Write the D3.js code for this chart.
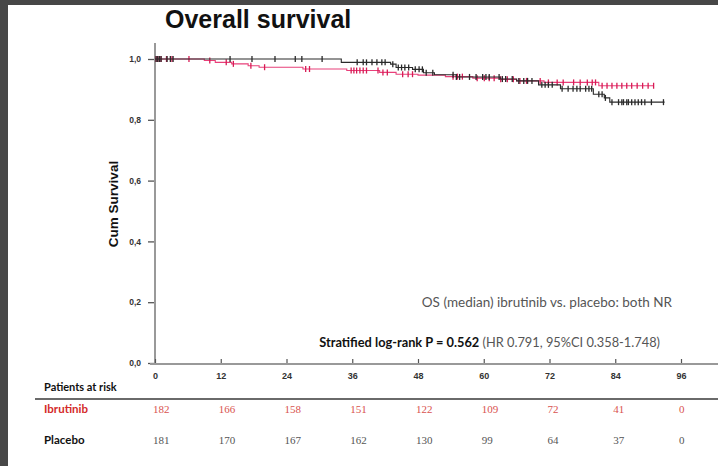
<!DOCTYPE html>
<html>
<head>
<meta charset="utf-8">
<script src="https://cdn.jsdelivr.net/npm/d3@7"></script>
<style>
  html, body { margin: 0; padding: 0; background: #fff; }
  svg { display: block; }
</style>
</head>
<body>
<svg id="chart" width="718" height="466"></svg>
<script>
// Kaplan–Meier overall survival, ibrutinib vs placebo (months)
const xTicks = [0, 12, 24, 36, 48, 60, 72, 84, 96];
const yTicks = [0, 0.2, 0.4, 0.6, 0.8, 1.0];

const ibrutinibTimes = [0, 9, 11, 14, 17, 19, 27, 35, 41, 44, 48, 53, 58, 63, 66, 71, 81];
const ibrutinibSurv  = [1, 0.995, 0.989, 0.984, 0.978, 0.973, 0.967, 0.962, 0.956, 0.950, 0.947, 0.942, 0.937, 0.933, 0.928, 0.923, 0.912];
const ibrutinibEnd = 91;
const ibrutinibCensor = [0.2, 0.5, 0.8, 1.1, 2.1, 3.1, 6.2, 10, 13, 14.3, 17.5, 20, 27.5, 28.2,
  35.8, 36.3, 36.8, 37.4, 38, 38.6, 40.7, 41.6, 42.4, 45.2, 46.2, 47, 54.4, 55.2, 56.1, 58.8,
  60.1, 61, 61.9, 63.1, 64.3, 65.4, 66.6, 67.8, 70.3, 71.8, 73.4, 74.5, 76.4, 77.6, 78.9, 79.8,
  80.4, 81.6, 82.5, 83.4, 84.3, 85.2, 86.1, 87, 88, 89, 90, 91];

const placeboTimes = [0, 34, 43, 44, 47, 49, 51, 55, 63, 66, 70, 74, 80, 82, 83];
const placeboSurv  = [1, 0.989, 0.983, 0.972, 0.966, 0.955, 0.948, 0.941, 0.934, 0.928, 0.915, 0.902, 0.884, 0.872, 0.858];
const placeboEnd = 93;
const placeboCensor = [0.2, 0.5, 0.8, 1.1, 2.2, 2.8, 3.3, 13.7, 17.7, 21.9, 25.6, 26.8, 30.5,
  36.9, 38, 38.6, 39.6, 40.5, 41.4, 42, 43.4, 44.4, 45, 45.6, 46.3, 47.5, 48.2, 48.8, 49.5, 50.7,
  54.4, 55, 55.6, 57.4, 58.6, 59.8, 60.4, 61, 62.8, 63.4, 64, 65.2, 66.4, 67.3, 68, 68.8,
  70.6, 71.2, 71.8, 72.5, 74.3, 75.4, 76.3, 77, 77.6, 78.6, 79.2, 79.7, 81, 81.6, 82.2,
  83.4, 84.6, 85.2, 85.5, 86.1, 86.4, 87, 87.6, 88.2, 88.8, 89.4, 90.6, 92.8];

const riskGroups = ["Ibrutinib", "Placebo"];
const ibrutinibAtRisk = [182, 166, 158, 151, 122, 109, 72, 41, 0];
const placeboAtRisk   = [181, 170, 167, 162, 130, 99, 64, 37, 0];

const svg = d3.select("#chart");
const W = 718, H = 466;

svg.append("rect").attr("width", W).attr("height", H).attr("fill", "#fff");

const x = d3.scaleLinear().domain([0, 96]).range([155, 681]);
const y = d3.scaleLinear().domain([0, 1]).range([363, 59]);

const RED_LINE = "#e8407a", RED_MARK = "#d81b55", BLACK = "#2a2a2a";

// Title
svg.append("text")
  .attr("x", 165).attr("y", 28)
  .attr("font-family", "Liberation Sans, Arial, sans-serif")
  .attr("font-weight", 700).attr("font-size", 25).attr("fill", "#111")
  .text("Overall survival");

// Y axis
const yAxis = svg.append("g").attr("transform", "translate(155,0)")
  .call(d3.axisLeft(y).tickValues(yTicks)
    .tickFormat(d => d3.format(".1f")(d).replace(".", ","))
    .tickSize(6).tickPadding(8));
yAxis.select(".domain").remove();
yAxis.selectAll(".tick line").attr("stroke", "#555").attr("stroke-width", 1.3).attr("transform", "translate(-1,0)");
yAxis.selectAll(".tick text")
  .attr("font-family", "Liberation Sans, Arial, sans-serif")
  .attr("font-weight", 700).attr("font-size", 8.5).attr("fill", "#333");
svg.append("line").attr("x1", 155).attr("x2", 155).attr("y1", 43).attr("y2", y(0) + 1)
  .attr("stroke", "#999").attr("stroke-width", 2);

// X axis
const xAxis = svg.append("g").attr("transform", `translate(0,${y(0)})`)
  .call(d3.axisBottom(x).tickValues(xTicks).tickFormat(d3.format("d"))
    .tickSize(-4).tickPadding(10));
xAxis.select(".domain").remove();
xAxis.selectAll(".tick line").attr("stroke", "#555").attr("stroke-width", 1.2);
xAxis.selectAll(".tick text")
  .attr("font-family", "Liberation Sans, Arial, sans-serif")
  .attr("font-weight", 700).attr("font-size", 9).attr("fill", "#333");
svg.append("line").attr("x1", 150).attr("x2", W).attr("y1", y(0) + 1).attr("y2", y(0) + 1)
  .attr("stroke", "#999").attr("stroke-width", 2);

// Y label
svg.append("text")
  .attr("transform", "translate(118,204) rotate(-90)")
  .attr("text-anchor", "middle")
  .attr("font-family", "Liberation Sans, Arial, sans-serif")
  .attr("font-weight", 700).attr("font-size", 13.5).attr("fill", "#111")
  .text("Cum Survival");

// Survival curves
function stepData(times, surv, end) {
  const pts = times.map((t, i) => [t, surv[i]]);
  pts.push([end, surv[surv.length - 1]]);
  return pts;
}
function survAt(times, surv, t) {
  let s = surv[0];
  for (let i = 0; i < times.length; i++) if (times[i] <= t) s = surv[i];
  return s;
}
const line = d3.line().x(d => x(d[0])).y(d => y(d[1])).curve(d3.curveStepAfter);

function drawArm(times, surv, end, censor, lineColor, markColor) {
  const g = svg.append("g");
  g.append("path").datum(stepData(times, surv, end))
    .attr("d", line).attr("fill", "none")
    .attr("stroke", lineColor).attr("stroke-width", 1.1);
  g.selectAll("line.c").data(censor).join("line")
    .attr("x1", d => x(d)).attr("x2", d => x(d))
    .attr("y1", d => y(survAt(times, surv, d)) - 3)
    .attr("y2", d => y(survAt(times, surv, d)) + 3)
    .attr("stroke", markColor).attr("stroke-width", 1.3);
}
drawArm(ibrutinibTimes, ibrutinibSurv, ibrutinibEnd, ibrutinibCensor, RED_LINE, RED_MARK);
drawArm(placeboTimes, placeboSurv, placeboEnd, placeboCensor, BLACK, BLACK);

// Annotations
svg.append("text")
  .attr("x", 672).attr("y", 307).attr("text-anchor", "end")
  .attr("font-family", "Lato, sans-serif").attr("font-size", 13.5).attr("fill", "#555")
  .text("OS (median) ibrutinib vs. placebo: both NR");

const st = svg.append("text")
  .attr("x", 660).attr("y", 347).attr("text-anchor", "end")
  .attr("font-family", "Lato, sans-serif").attr("font-size", 12.8);
st.append("tspan").attr("font-weight", 700).attr("fill", "#111").text("Stratified log-rank P = 0.562");
st.append("tspan").attr("fill", "#555").text(" (HR 0.791, 95%CI 0.358-1.748)");

// Patients at risk table
svg.append("text")
  .attr("x", 44).attr("y", 391)
  .attr("font-family", "Lato, sans-serif").attr("font-weight", 700)
  .attr("font-size", 11).attr("fill", "#111")
  .text("Patients at risk");
svg.append("line").attr("x1", 35).attr("x2", W).attr("y1", 399).attr("y2", 399)
  .attr("stroke", "#6a6a6a").attr("stroke-width", 2);

const rows = [
  { name: riskGroups[0], values: ibrutinibAtRisk, y: 413, labelColor: "#d42a2a", numColor: "#d9534f" },
  { name: riskGroups[1], values: placeboAtRisk, y: 444, labelColor: "#111", numColor: "#555" }
];
rows.forEach(r => {
  svg.append("text")
    .attr("x", 44).attr("y", r.y)
    .attr("font-family", "Lato, sans-serif").attr("font-weight", 700)
    .attr("font-size", 11.5).attr("fill", r.labelColor)
    .text(r.name);
  svg.append("g").selectAll("text").data(r.values).join("text")
    .attr("x", (d, i) => x(xTicks[i]) - 2).attr("y", r.y)
    .attr("font-family", "Liberation Serif, serif")
    .attr("font-size", 11).attr("fill", r.numColor)
    .text(d => d);
});

// Frame edges
svg.append("rect").attr("x", 0).attr("y", 0).attr("width", 8).attr("height", H).attr("fill", "#474747");
svg.append("rect").attr("x", 0).attr("y", 0).attr("width", W).attr("height", 5).attr("fill", "#474747");
</script>
</body>
</html>
